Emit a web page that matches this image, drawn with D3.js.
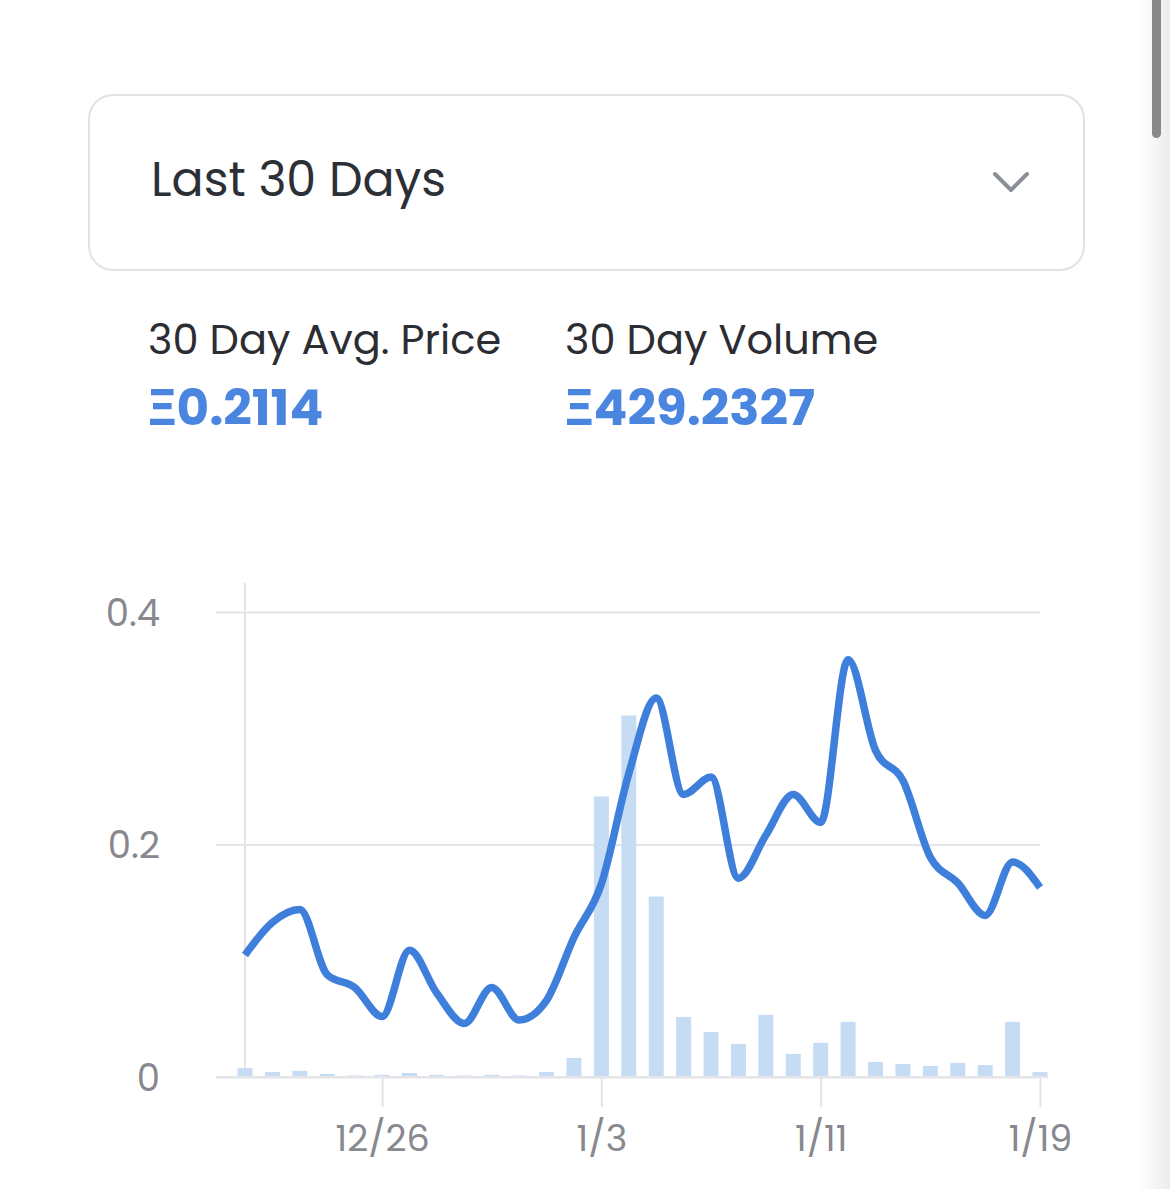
<!DOCTYPE html>
<html>
<head>
<meta charset="utf-8">
<script src="https://cdn.jsdelivr.net/npm/d3@7/dist/d3.min.js"></script>
<style>
  html, body { margin: 0; padding: 0; background: #fff; overflow: hidden; }
  text { font-family: "Poppins", "Open Sans", "Noto Sans", sans-serif; }
</style>
</head>
<body>
<div id="chart"></div>
<script>
// days shown on the chart (Dec 21 .. Jan 19)
const days = d3.timeDay.range(new Date(2021, 11, 21), new Date(2022, 0, 20));

// average sale price per day (ETH)
const prices = [
   0.105, 0.133, 0.144, 0.088, 0.077, 0.052, 0.109, 0.072, 0.046, 0.077,
   0.049, 0.066, 0.120, 0.166, 0.261, 0.326, 0.243, 0.258, 0.171, 0.208,
   0.243, 0.219, 0.359, 0.281, 0.255, 0.189, 0.167, 0.139, 0.185, 0.163,
];

// traded volume per day (ETH)
const volumes = [
   2.9, 1.6, 2.0, 1.0, 0.5, 0.7, 1.3, 0.7, 0.5, 0.7,
   0.5, 1.6, 6.2, 91.1, 117.4, 58.6, 19.5, 14.6, 10.7, 20.2,
   7.5, 11.1, 17.9, 4.9, 4.2, 3.6, 4.6, 3.9, 17.9, 1.6,
];

const priceTicks = [0, 0.2, 0.4];
const dateTicks = [
   new Date(2021, 11, 26),
   new Date(2022, 0, 3),
   new Date(2022, 0, 11),
   new Date(2022, 0, 19),
];

const rangeLabel = 'Last 30 Days';
const stats = [
   { label: '30 Day Avg. Price', value: 'Ξ0.2114' },
   { label: '30 Day Volume', value: 'Ξ429.2327' },
];

const W = 1170;
const H = 1189;
const blue = '#3f7fdc';
const axisGrey = '#e4e4e9';
const labelGrey = '#88888f';
const font = '"Poppins", "Open Sans", "Noto Sans", sans-serif';

const svg = d3
   .select('#chart')
   .append('svg')
   .attr('width', W)
   .attr('height', H);

// dropdown box
svg.append('rect')
   .attr('x', 89)
   .attr('y', 95)
   .attr('width', 995)
   .attr('height', 175)
   .attr('rx', 24)
   .attr('fill', '#fff')
   .attr('stroke', '#e2e2e6')
   .attr('stroke-width', 2);

svg.append('text')
   .attr('x', 151)
   .attr('y', 196)
   .attr('font-size', 47.5)
   .attr('fill', '#2d2f36')
   .text(rangeLabel);

svg.append('path')
   .attr('d', 'M995,174 L1011,190 L1027,174')
   .attr('fill', 'none')
   .attr('stroke', '#8a8f98')
   .attr('stroke-width', 4)
   .attr('stroke-linecap', 'round')
   .attr('stroke-linejoin', 'round');

// summary stats
const statG = svg
   .selectAll('.stat')
   .data(stats)
   .join('g')
   .attr('class', 'stat')
   .attr('transform', (d, i) => `translate(${i ? 565 : 148},0)`);

statG.append('text')
   .attr('y', 354)
   .attr('font-size', 41.5)
   .attr('fill', '#2b2d33')
   .text((d) => d.label);

statG.append('text')
   .attr('y', 425)
   .attr('font-size', 50)
   .attr('font-weight', 'bold')
   .attr('fill', '#4a86e0')
   .text((d) => d.value);

// chart
const plot = { left: 245, right: 1040, top: 583, bottom: 1077 };

const x = d3
   .scaleTime()
   .domain([days[0], days[days.length - 1]])
   .range([plot.left, plot.right]);

const y = d3
   .scaleLinear()
   .domain([0, 0.4])
   .range([plot.bottom, plot.bottom - 465]);

const yVol = d3
   .scaleLinear()
   .domain([0, 151])
   .range([plot.bottom, plot.bottom - 465]);

// y axis with gridlines
const yAxisG = svg
   .append('g')
   .attr('class', 'axis y-axis')
   .attr('transform', `translate(216,0)`)
   .call(
      d3
         .axisLeft(y)
         .tickValues(priceTicks)
         .tickSize(-(plot.right - 216))
         .tickPadding(56)
         .tickFormat((d) => (d === 0 ? '0' : d3.format('.1f')(d)))
   );
yAxisG.select('.domain').remove();
yAxisG.selectAll('line').attr('stroke', axisGrey).attr('stroke-width', 2);
yAxisG
   .selectAll('text')
   .attr('font-size', 37)
   .attr('dy', '0.36em')
   .attr('fill', labelGrey)
   .style('font-family', font);

svg.append('line')
   .attr('x1', plot.left)
   .attr('x2', plot.left)
   .attr('y1', plot.top)
   .attr('y2', plot.bottom)
   .attr('stroke', axisGrey)
   .attr('stroke-width', 2);

// volume bars
svg.append('g')
   .attr('class', 'bars')
   .selectAll('rect')
   .data(days)
   .join('rect')
   .attr('x', (d) => x(d) - 7.5)
   .attr('width', 15)
   .attr('y', (d, i) => yVol(volumes[i]))
   .attr('height', (d, i) => plot.bottom - yVol(volumes[i]))
   .attr('fill', '#c6dcf4');

// x axis
const xAxisG = svg
   .append('g')
   .attr('class', 'axis x-axis')
   .attr('transform', `translate(0,${plot.bottom})`)
   .call(
      d3
         .axisBottom(x)
         .tickValues(dateTicks)
         .tickSize(30)
         .tickSizeOuter(0)
         .tickPadding(18)
         .tickFormat(d3.timeFormat('%-m/%-d'))
   );
xAxisG.select('.domain').remove();
xAxisG.selectAll('line').attr('stroke', axisGrey).attr('stroke-width', 2);
xAxisG
   .selectAll('text')
   .attr('font-size', 36.5)
   .attr('fill', labelGrey)
   .style('font-family', font);

svg.append('line')
   .attr('x1', 216)
   .attr('x2', plot.right + 8)
   .attr('y1', plot.bottom)
   .attr('y2', plot.bottom)
   .attr('stroke', axisGrey)
   .attr('stroke-width', 2);

// price line
const line = d3
   .line()
   .x((d) => x(d))
   .y((d, i) => y(prices[i]))
   .curve(d3.curveMonotoneX);

svg.append('path')
   .datum(days)
   .attr('d', line)
   .attr('fill', 'none')
   .attr('stroke', blue)
   .attr('stroke-width', 7.5)
   .attr('stroke-linejoin', 'round');

// page scrollbar
const grad = svg
   .append('defs')
   .append('linearGradient')
   .attr('id', 'track')
   .attr('x1', 0)
   .attr('x2', 1);
grad.append('stop').attr('offset', 0).attr('stop-color', '#ffffff');
grad.append('stop').attr('offset', 1).attr('stop-color', '#ececec');

svg.append('rect')
   .attr('x', 1138)
   .attr('y', 0)
   .attr('width', 32)
   .attr('height', H)
   .attr('fill', 'url(#track)');

svg.append('rect')
   .attr('x', 1152)
   .attr('y', -10)
   .attr('width', 9)
   .attr('height', 148)
   .attr('rx', 4.5)
   .attr('fill', '#888');
</script>
</body>
</html>
